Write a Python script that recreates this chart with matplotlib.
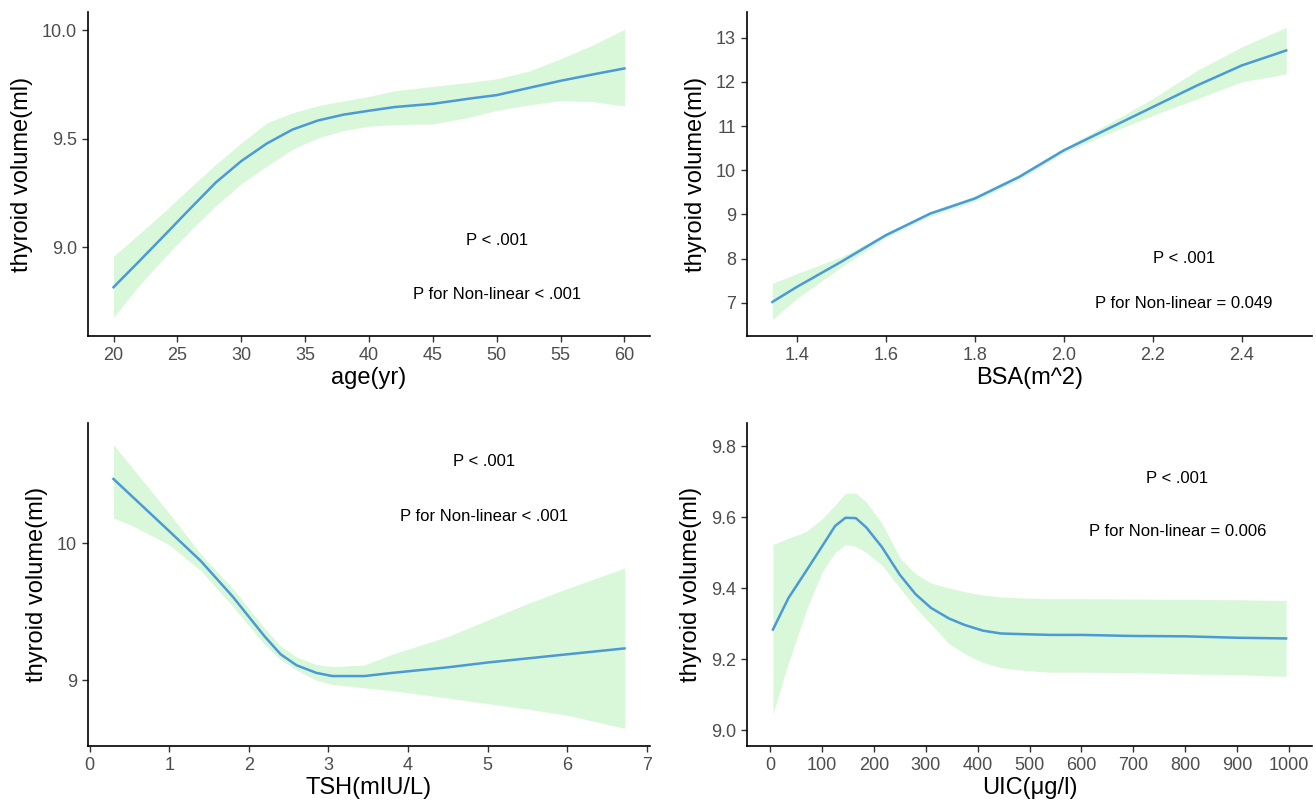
import matplotlib
matplotlib.use("Agg")
import matplotlib.pyplot as plt
from matplotlib import font_manager

names = {f.name for f in font_manager.fontManager.ttflist}
FAM = "Liberation Sans Narrow" if "Liberation Sans Narrow" in names else "Liberation Sans"
plt.rcParams['font.family'] = [FAM, 'DejaVu Sans']

# ---------------- data ----------------
age_x = [20, 22, 24, 26, 28, 30, 32, 34, 36, 38, 40, 42, 45, 48, 50, 52.5, 55, 57.5, 60]
age_y = [8.815, 8.934, 9.055, 9.177, 9.297, 9.396, 9.477, 9.541, 9.583, 9.610, 9.628, 9.645,
         9.660, 9.685, 9.700, 9.733, 9.766, 9.795, 9.823]
age_lo = [8.677, 8.823, 8.953, 9.075, 9.190, 9.292, 9.373, 9.450, 9.503, 9.537, 9.557, 9.564,
          9.567, 9.600, 9.630, 9.655, 9.675, 9.670, 9.650]
age_hi = [8.957, 9.060, 9.164, 9.274, 9.380, 9.480, 9.572, 9.618, 9.651, 9.673, 9.694, 9.720,
          9.740, 9.760, 9.775, 9.810, 9.867, 9.930, 10.003]

bsa_x = [1.345, 1.4, 1.5, 1.6, 1.7, 1.8, 1.9, 2.0, 2.1, 2.2, 2.3, 2.4, 2.5]
bsa_y = [7.02, 7.36, 7.93, 8.53, 9.02, 9.36, 9.85, 10.45, 10.94, 11.43, 11.92, 12.37, 12.71]
bsa_lo = [6.62, 7.10, 7.81, 8.48, 8.96, 9.30, 9.79, 10.40, 10.83, 11.24, 11.62, 12.00, 12.18]
bsa_hi = [7.44, 7.66, 8.04, 8.57, 9.07, 9.42, 9.91, 10.50, 11.05, 11.62, 12.26, 12.79, 13.23]

tsh_x = [0.3, 0.55, 1.0, 1.4, 1.8, 2.2, 2.4, 2.6, 2.85, 3.05, 3.45, 3.8, 4.5, 5.0, 5.5, 6.0, 6.72]
tsh_y = [10.471, 10.335, 10.09, 9.87, 9.61, 9.32, 9.19, 9.11, 9.054, 9.031, 9.031, 9.054,
         9.095, 9.13, 9.16, 9.19, 9.233]
tsh_lo = [10.186, 10.126, 9.99, 9.80, 9.54, 9.26, 9.15, 9.075, 9.00, 8.97, 8.945, 8.925,
          8.87, 8.83, 8.79, 8.745, 8.65]
tsh_hi = [10.72, 10.543, 10.22, 9.92, 9.67, 9.38, 9.25, 9.17, 9.115, 9.10, 9.112, 9.19,
          9.32, 9.44, 9.56, 9.67, 9.82]

uic_x = [5, 35, 70, 100, 125, 145, 165, 185, 215, 250, 280, 310, 345, 375, 410, 445, 490,
         540, 600, 700, 800, 900, 995]
uic_y = [9.283, 9.372, 9.450, 9.518, 9.575, 9.598, 9.597, 9.571, 9.516, 9.437, 9.383, 9.344,
         9.314, 9.296, 9.280, 9.272, 9.270, 9.268, 9.268, 9.265, 9.264, 9.260, 9.258]
uic_lo = [9.045, 9.190, 9.340, 9.446, 9.500, 9.523, 9.518, 9.500, 9.465, 9.400, 9.345, 9.298,
          9.243, 9.215, 9.190, 9.176, 9.168, 9.163, 9.163, 9.162, 9.158, 9.156, 9.151]
uic_hi = [9.523, 9.540, 9.560, 9.595, 9.634, 9.667, 9.667, 9.643, 9.583, 9.485, 9.440, 9.414,
          9.400, 9.390, 9.380, 9.375, 9.372, 9.370, 9.370, 9.369, 9.368, 9.367, 9.365]

panels = [
    dict(x=age_x, y=age_y, lo=age_lo, hi=age_hi, xlabel="age(yr)",
         xticks=[20, 25, 30, 35, 40, 45, 50, 55, 60], xtl=None, xlim=(18, 62),
         yticks=[9.0, 9.5, 10.0], ytl=["9.0", "9.5", "10.0"], ylim=(8.59, 10.083),
         p1=(50, 9.03), p2=(50, 8.78), ptext="P for Non-linear < .001",
         pos=[88, 12, 650, 336]),
    dict(x=bsa_x, y=bsa_y, lo=bsa_lo, hi=bsa_hi, xlabel="BSA(m^2)",
         xticks=[1.4, 1.6, 1.8, 2.0, 2.2, 2.4], xtl=["1.4", "1.6", "1.8", "2.0", "2.2", "2.4"], xlim=(1.288, 2.558),
         yticks=[7, 8, 9, 10, 11, 12, 13], ytl=None, ylim=(6.25, 13.58),
         p1=(2.27, 8.0), p2=(2.27, 6.98), ptext="P for Non-linear = 0.049",
         pos=[747, 12, 1312, 336]),
    dict(x=tsh_x, y=tsh_y, lo=tsh_lo, hi=tsh_hi, xlabel="TSH(mIU/L)",
         xticks=[0, 1, 2, 3, 4, 5, 6, 7], xtl=None, xlim=(-0.02, 7.04),
         yticks=[9, 10], ytl=None, ylim=(8.52, 10.88),
         p1=(4.95, 10.6), p2=(4.95, 10.2), ptext="P for Non-linear < .001",
         pos=[88, 423, 650, 746]),
    dict(x=uic_x, y=uic_y, lo=uic_lo, hi=uic_hi, xlabel="UIC(\u03bcg/l)",
         xticks=list(range(0, 1001, 100)), xtl=None, xlim=(-45, 1045),
         yticks=[9.0, 9.2, 9.4, 9.6, 9.8], ytl=["9.0", "9.2", "9.4", "9.6", "9.8"], ylim=(8.955, 9.865),
         p1=(785, 9.71), p2=(785, 9.56), ptext="P for Non-linear = 0.006",
         pos=[747, 423, 1312, 746]),
]

W, H = 1316, 810
fig = plt.figure(figsize=(W / 100, H / 100), dpi=100)
LINE = "#4a9ad6"
FILL = "#d9f7d9"
TICKC = "#4d4d4d"

for p in panels:
    l, t, r, b = p["pos"]
    ax = fig.add_axes([l / W, 1 - b / H, (r - l) / W, (b - t) / H])
    ax.fill_between(p["x"], p["lo"], p["hi"], color=FILL, lw=0, zorder=1)
    ax.plot(p["x"], p["y"], color=LINE, lw=1.8, zorder=2, solid_joinstyle="round")
    ax.set_xlim(*p["xlim"])
    ax.set_ylim(*p["ylim"])
    ax.set_xticks(p["xticks"])
    if p["xtl"]:
        ax.set_xticklabels(p["xtl"])
    ax.set_yticks(p["yticks"])
    if p["ytl"]:
        ax.set_yticklabels(p["ytl"])
    for s in ["top", "right"]:
        ax.spines[s].set_visible(False)
    for s in ["left", "bottom"]:
        ax.spines[s].set_linewidth(1.2)
        ax.spines[s].set_color("black")
    ax.tick_params(axis="both", length=4, width=1.0, color="#333333",
                   labelcolor=TICKC, labelsize=13, pad=4)
    ax.set_xlabel(p["xlabel"], fontsize=17, color="black", labelpad=2)
    ax.set_ylabel("thyroid volume(ml)", fontsize=17, color="black", labelpad=6)
    ax.text(p["p1"][0], p["p1"][1], "P < .001", ha="center", va="center", fontsize=12, color="black")
    ax.text(p["p2"][0], p["p2"][1], p["ptext"], ha="center", va="center", fontsize=12, color="black")

fig.savefig("out.png", dpi=100, facecolor="white")
